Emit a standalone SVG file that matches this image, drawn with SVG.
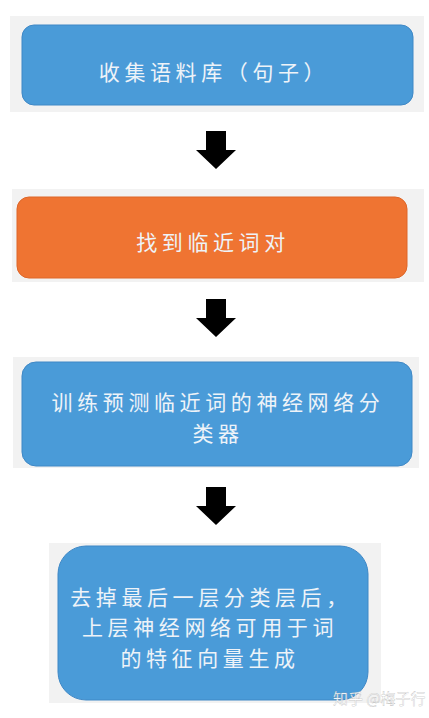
<svg xmlns="http://www.w3.org/2000/svg" width="429" height="718" viewBox="0 0 429 718">
<style>
.panel{fill:#f2f2f2}
.blue{fill:#4a9bd8;stroke:#3f88c6;stroke-width:1}
.orange{fill:#ef7432;stroke:#de6628;stroke-width:1}
.t{font-family:"Noto Sans CJK SC","Noto Sans",sans-serif;font-size:21px;fill:#eef3f8;text-anchor:middle;letter-spacing:4.6px}
.wm{font-family:"Noto Sans CJK SC","Noto Sans",sans-serif;font-size:15px;fill:#ffffff;stroke:#a0a0a0;stroke-width:0.25;opacity:0.9}
</style>
<defs>
<path id="arr" d="M206,0 H226 V19 H236 L216,38 L196,19 H206 Z" fill="#000"/>
</defs>
<rect width="429" height="718" fill="#ffffff"/>
<g id="node1">
<rect class="panel" x="10" y="16" width="414" height="96"/>
<rect class="blue" x="22" y="25" width="391" height="80" rx="12"/>
<text class="t" x="214" y="80">收集语料库（句子）</text>
</g>
<g id="node2">
<rect class="panel" x="12" y="189" width="412" height="93"/>
<rect class="orange" x="17" y="197" width="390" height="81" rx="12"/>
<text class="t" x="213" y="250">找到临近词对</text>
</g>
<g id="node3">
<rect class="panel" x="13" y="357" width="406" height="111"/>
<rect class="blue" x="22" y="362" width="390" height="104" rx="14"/>
<text class="t" x="218" y="410">训练预测临近词的神经网络分</text>
<text class="t" x="218" y="441">类器</text>
</g>
<g id="node4">
<rect class="panel" x="49" y="543" width="332" height="160"/>
<rect class="blue" x="58" y="546" width="310" height="154" rx="28"/>
<text class="t" x="211" y="605">去掉最后一层分类层后，</text>
<text class="t" x="210" y="635">上层神经网络可用于词</text>
<text class="t" x="210" y="666">的特征向量生成</text>
</g>
<g id="connectors">
<use href="#arr" transform="translate(0,131)"/>
<use href="#arr" transform="translate(0,299)"/>
<use href="#arr" transform="translate(0,487)"/>
</g>
<text class="wm" x="333" y="704">知乎 @梅子行</text>
</svg>
